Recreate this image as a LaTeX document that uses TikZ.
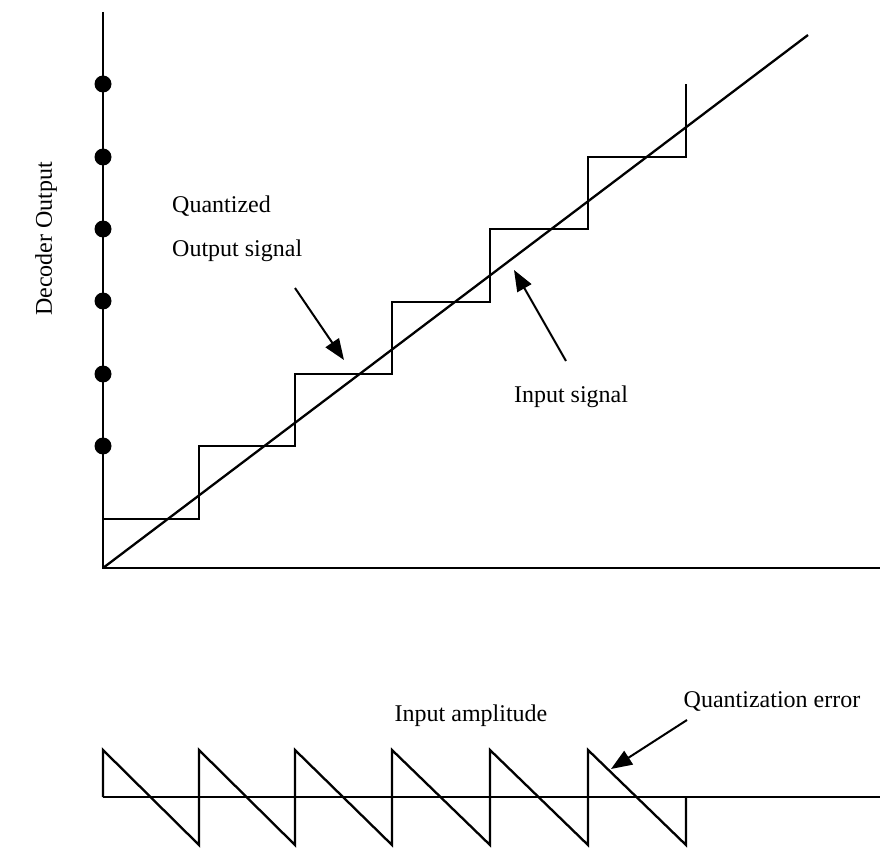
\documentclass[tikz,border=0pt]{standalone}
\usepackage{fontspec}
\setmainfont{Liberation Serif}
\usetikzlibrary{arrows.meta}
\begin{document}
\begin{tikzpicture}[x=1pt,y=-1pt,
  axis/.style={line width=2.7pt},
  sig/.style={line width=2.3pt},
  ptr/.style={line width=2pt,-{Triangle[length=21pt,width=16pt]}},
  lbl/.style={font=\fontsize{24}{28}\selectfont,inner sep=0pt},
  dot/.style={circle,fill=black,inner sep=0pt,minimum size=17pt}]
\useasboundingbox (0,0) rectangle (886,850);
% axes
\coordinate (O) at (103,568);
\coordinate (ytop) at (103,12);
\coordinate (xend) at (880,568);
\draw[axis] (ytop) -- (O) -- (xend);
% dots
\foreach \y/\n in {84/1,157/2,229/3,301/4,374/5,446/6}
  \node[dot] (d\n) at (103,\y) {};
% staircase
\draw[sig] (103,519) -- (199,519) -- (199,446) -- (295,446) -- (295,374)
  -- (392,374) -- (392,302) -- (490,302) -- (490,229) -- (588,229)
  -- (588,157) -- (686,157) -- (686,84);
% input line
\coordinate (dend) at (808,35);
\draw[sig] (O) -- (dend);
% labels
\node[lbl,rotate=90] (ylab) at (46,239) {Decoder Output};
\node[lbl,anchor=base west] (q1) at (172,213) {Quantized};
\node[lbl,anchor=base west] (q2) at (172,257) {Output signal};
\node[lbl] (ins) at (571,397) {Input signal};
\node[lbl] (amp) at (471,716) {Input amplitude};
\node[lbl] (qe) at (772,701) {Quantization error};
% pointers
\coordinate (a1s) at (295,288); \coordinate (a1e) at (344,360);
\draw[ptr] (a1s) -- (a1e);
\coordinate (a2s) at (566,361); \coordinate (a2e) at (514,270);
\draw[ptr] (a2s) -- (a2e);
\coordinate (a3s) at (687,720); \coordinate (a3e) at (611,769);
\draw[ptr] (a3s) -- (a3e);
% error plot
\coordinate (b0) at (103,797);
\coordinate (b1) at (880,797);
\draw[axis] (b0) -- (b1);
\draw[sig] (103,797) -- (103,750) -- (199,845) -- (199,750) -- (295,845)
  -- (295,750) -- (392,845) -- (392,750) -- (490,845) -- (490,750)
  -- (588,845) -- (588,750) -- (686,845) -- (686,797);
\end{tikzpicture}
\end{document}
